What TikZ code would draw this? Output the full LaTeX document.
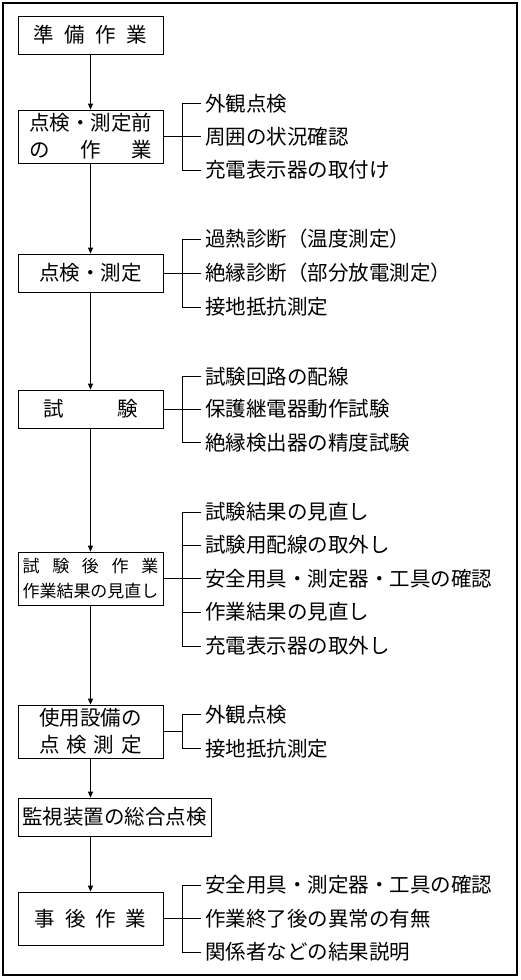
\documentclass[tikz,border=0pt]{standalone}
\usepackage{fontspec}
\setmainfont{Noto Sans CJK JP}
\usetikzlibrary{arrows.meta}

\begin{document}
\begin{tikzpicture}[x=1pt,y=-1pt,>={Triangle[length=6pt,width=5pt]},line width=.8pt,
 box/.style={draw,minimum width=145pt,minimum height=38pt,inner sep=0pt,align=center,
  font=\fontsize{20.5}{27}\selectfont},
 item/.style={anchor=west,inner sep=0pt,inner xsep=4pt,font=\fontsize{20.5}{24}\selectfont}]
 \useasboundingbox (0,0) rectangle (521,980);
 \draw[line width=1.2pt] (3,3) rectangle (517,975);
 % main flow
 \node[box] (b1) at (90.5,35) {\makebox[5.55em]{準\hfill 備\hfill 作\hfill 業}};
 \node[box,minimum height=53pt] (b2) at (90.5,136.5) {点検・測定前\\\makebox[6em]{の\hfill 作\hfill 業}};
 \node[box] (b3) at (90.5,273) {点検・測定};
 \node[box] (b4) at (90.5,409) {\makebox[4.6em]{試\hfill 験}};
 \node[box,minimum height=53pt,font=\fontsize{17}{25}\selectfont] (b5) at (90.5,578.5)
  {\makebox[8em]{試\hfill 験\hfill 後\hfill 作\hfill 業}\\作業結果の見直し};
 \node[box,minimum height=53pt] (b6) at (90.5,731.5) {使用設備の\\\makebox[5em]{点\hfill 検\hfill 測\hfill 定}};
 \node[box,minimum width=193pt] (b7) at (114.5,817) {監視装置の総合点検};
 \node[box,minimum height=53pt] (b8) at (90.5,918.5) {\makebox[5.45em]{事\hfill 後\hfill 作\hfill 業}};
 \draw[->] (b1.south) -- (b2.north);
 \draw[->] (b2.south) -- (b3.north);
 \draw[->] (b3.south) -- (b4.north);
 \draw[->] (b4.south) -- (b5.north);
 \draw[->] (b5.south) -- (b6.north);
 \draw[->] (b6.south) -- (b6.south |- b7.north);
 \draw[->] (b8.north |- b7.south) -- (b8.north);
 % branches
 \foreach \b in {b2,b3,b4,b5,b6,b8}
  {\coordinate (k\b) at ([xshift=19pt]\b.east); \draw (\b.east) -- (k\b);}
 \foreach \y/\t [count=\i] in {103.5/外観点検,136.5/周囲の状況確認,170/充電表示器の取付け}
  {\node[item] (p2-\i) at (201,\y) {\t}; \draw (p2-\i.west) -| (kb2);}
 \foreach \y/\t [count=\i] in {239/過熱診断（温度測定）,273/絶縁診断（部分放電測定）,307/接地抵抗測定}
  {\node[item] (p3-\i) at (201,\y) {\t}; \draw (p3-\i.west) -| (kb3);}
 \foreach \y/\t [count=\i] in {376.5/試験回路の配線,409/保護継電器動作試験,442.5/絶縁検出器の精度試験}
  {\node[item] (p4-\i) at (201,\y) {\t}; \draw (p4-\i.west) -| (kb4);}
 \foreach \y/\t [count=\i] in {512/試験結果の見直し,545/試験用配線の取外し,578.5/安全用具・測定器・工具の確認,612/作業結果の見直し,646/充電表示器の取外し}
  {\node[item] (p5-\i) at (201,\y) {\t}; \draw (p5-\i.west) -| (kb5);}
 \foreach \y/\t [count=\i] in {714.5/外観点検,748.5/接地抵抗測定}
  {\node[item] (p6-\i) at (201,\y) {\t}; \draw (p6-\i.west) -| (kb6);}
 \foreach \y/\t [count=\i] in {885/安全用具・測定器・工具の確認,918.5/作業終了後の異常の有無,952/関係者などの結果説明}
  {\node[item] (p8-\i) at (201,\y) {\t}; \draw (p8-\i.west) -| (kb8);}
\end{tikzpicture}
\end{document}
